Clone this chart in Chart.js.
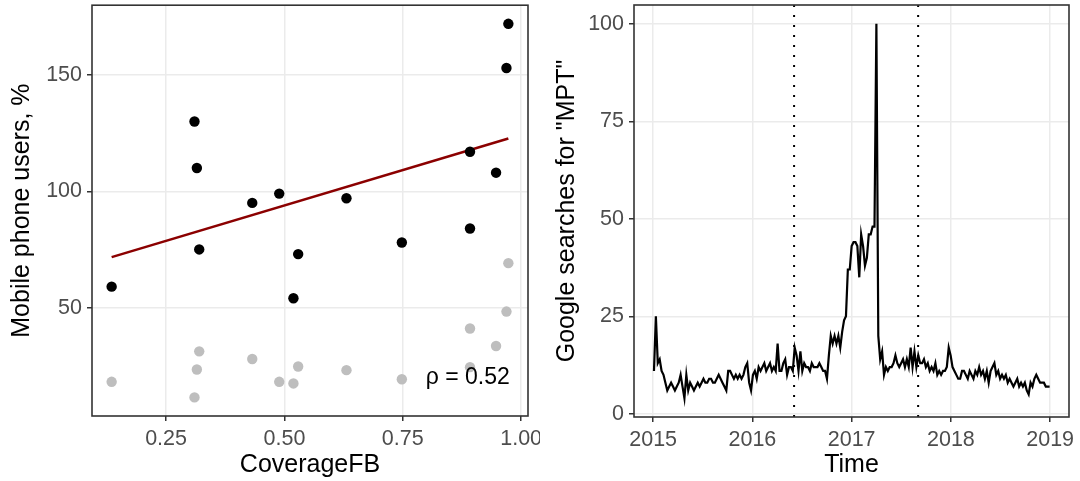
<!DOCTYPE html>
<html>
<head>
<meta charset="utf-8">
<script src="https://cdn.jsdelivr.net/npm/chart.js@4.4.0/dist/chart.umd.min.js"></script>
<style>
  body { margin: 0; background: #fff; }
  #wrap { display: flex; width: 1080px; height: 481px; }
  canvas { display: block; }
</style>
</head>
<body>
<div id="wrap">
  <canvas id="left" width="540" height="481"></canvas>
  <canvas id="right" width="540" height="481"></canvas>
</div>
<script>
// left panel - one point per country
const coverageFB  = [0.135, 0.310, 0.315, 0.320, 0.432, 0.489, 0.519, 0.529, 0.631, 0.748, 0.892, 0.892, 0.947, 0.969, 0.973];
const mobileUsers = [59, 130, 110, 75, 95, 99, 54, 73, 97, 78, 117, 84, 108, 153, 172];
const fbUsers     = [18.1, 11.4, 23.4, 31.2, 27.9, 18.1, 17.4, 24.7, 23.1, 19.2, 41.0, 24.4, 33.5, 48.3, 69.1];
const fitX = [0.135, 0.973];
const fitY = [71.7, 122.7];
const rhoText = 'ρ = 0.52';
const coverageTicks = [0.25, 0.5, 0.75, 1.0];
const usersTicks = [50, 100, 150];

// right panel - weekly google trends, first week 2015-01-04
const mptSearches = [
  11, 25, 13, 14, 11, 10, 8, 6, 7, 8,
  7, 6, 7, 8, 10, 7, 4, 10, 6, 8,
  7, 6, 7, 8, 7, 8, 9, 8, 8, 9,
  9, 8, 8, 9, 10, 9, 8, 7, 6, 11,
  11, 10, 9, 10, 9, 10, 9, 10, 12, 13,
  8, 6, 10, 11, 9, 12, 11, 12, 13, 11,
  12, 13, 11, 12, 11, 18, 11, 11, 13, 14,
  10, 12, 12, 11, 17, 15, 11, 16, 11, 13,
  12, 12, 11, 13, 12, 12, 12, 13, 12, 11,
  11, 9, 15, 20, 18, 20, 18, 20, 17, 21,
  24, 25, 37, 37, 43, 44, 44, 43, 35, 46,
  43, 38, 40, 46, 46, 48, 48, 100, 20, 14,
  16, 10, 12, 11, 12, 12, 13, 15, 13, 12,
  13, 14, 12, 14, 12, 17, 12, 16, 12, 15,
  13, 13, 14, 12, 13, 11, 12, 11, 13, 10,
  11, 10, 11, 11, 12, 17, 15, 12, 11, 10,
  9, 9, 11, 11, 10, 9, 11, 10, 9, 11,
  10, 12, 10, 11, 9, 11, 8, 11, 12, 13,
  10, 11, 9, 10, 9, 10, 8, 9, 8, 7,
  8, 9, 7, 8, 7, 8, 6, 5, 8, 7,
  9, 10, 9, 8, 8, 8, 7, 7, 7
];
const eventDates = [2016.42, 2017.67];
const yearTicks = [2015, 2016, 2017, 2018, 2019];
const searchTicks = [0, 25, 50, 75, 100];

const FONT = "'Liberation Sans', Arial, sans-serif";
Chart.defaults.font.family = FONT;

function decYear(d) {
  const y = d.getFullYear();
  const a = new Date(y, 0, 1), b = new Date(y + 1, 0, 1);
  return y + (d - a) / (b - a);
}
const weekPoints = mptSearches.map((v, i) => ({ x: decYear(new Date(2015, 0, 4 + 7 * i)), y: v }));

const panelBorder = {
  id: 'panelBorder',
  afterDraw(chart) {
    const { ctx, chartArea: a } = chart;
    ctx.save();
    ctx.strokeStyle = '#333333';
    ctx.lineWidth = 1.6;
    ctx.strokeRect(a.left, a.top, a.right - a.left, a.bottom - a.top);
    ctx.restore();
  }
};

const rhoLabel = {
  id: 'rhoLabel',
  afterDatasetsDraw(chart) {
    const { ctx, scales } = chart;
    ctx.save();
    ctx.font = '23px ' + FONT;
    ctx.fillStyle = '#000';
    ctx.textAlign = 'right';
    ctx.textBaseline = 'middle';
    ctx.fillText(rhoText, scales.x.getPixelForValue(0.976), scales.y.getPixelForValue(20));
    ctx.restore();
  }
};

function fixTicks(list) {
  return axis => { axis.ticks = list.map(v => ({ value: v })); };
}
function grid() {
  return { color: '#ebebeb', lineWidth: 1.5, tickColor: '#333333', tickLength: 5, tickWidth: 1.5 };
}
function tickFont() {
  return { color: '#4d4d4d', font: { size: 21.5 }, padding: 5, maxRotation: 0, autoSkip: false };
}

const baseOpts = {
  responsive: false,
  animation: false,
  devicePixelRatio: 1,
  plugins: { legend: { display: false }, tooltip: { enabled: false } }
};

new Chart(document.getElementById('left'), {
  type: 'scatter',
  data: {
    datasets: [
      {
        data: coverageFB.map((x, i) => ({ x: x, y: mobileUsers[i] })),
        pointBackgroundColor: '#000', pointBorderWidth: 0, pointRadius: 5.2
      },
      {
        data: coverageFB.map((x, i) => ({ x: x, y: fbUsers[i] })),
        pointBackgroundColor: '#bebebe', pointBorderWidth: 0, pointRadius: 5.2
      },
      {
        data: fitX.map((x, i) => ({ x: x, y: fitY[i] })),
        showLine: true, borderColor: '#8b0000', borderWidth: 2.6, pointRadius: 0
      }
    ]
  },
  options: Object.assign({}, baseOpts, {
    layout: { padding: { top: 5, right: 12, left: 0, bottom: 0 } },
    scales: {
      x: {
        type: 'linear', min: 0.0935, max: 1.0145,
        afterBuildTicks: fixTicks(coverageTicks),
        afterFit: s => { s.height = 65; s.paddingLeft = 0; s.paddingRight = 0; },
        grid: grid(), border: { display: false },
        ticks: Object.assign(tickFont(), { callback: v => v.toFixed(2) }),
        title: { display: true, text: 'CoverageFB', color: '#000', font: { size: 25 }, padding: { top: 0, bottom: 1 } }
      },
      y: {
        type: 'linear', min: 3.4, max: 180,
        afterBuildTicks: fixTicks(usersTicks),
        afterFit: s => { s.width = 92; s.paddingTop = 0; s.paddingBottom = 0; },
        grid: grid(), border: { display: false },
        ticks: tickFont(),
        title: { display: true, text: 'Mobile phone users, %', color: '#000', font: { size: 25 }, padding: { top: 7, bottom: 0 } }
      }
    }
  }),
  plugins: [rhoLabel, panelBorder]
});

const yLo = -0.8, yHi = 104.8;
new Chart(document.getElementById('right'), {
  type: 'scatter',
  data: {
    datasets: [
      {
        data: weekPoints, showLine: true, borderColor: '#000', borderWidth: 2.2, pointRadius: 0, tension: 0
      }
    ].concat(eventDates.map(d => ({
      data: [{ x: d, y: yLo }, { x: d, y: yHi }],
      showLine: true, borderColor: '#000', borderWidth: 2, borderDash: [2, 8], pointRadius: 0
    })))
  },
  options: Object.assign({}, baseOpts, {
    layout: { padding: { top: 5, right: 11, left: 0, bottom: 0 } },
    scales: {
      x: {
        type: 'linear', min: 2014.807, max: 2019.19,
        afterBuildTicks: fixTicks(yearTicks),
        afterFit: s => { s.height = 64; s.paddingLeft = 0; s.paddingRight = 0; },
        grid: grid(), border: { display: false },
        ticks: Object.assign(tickFont(), { callback: v => String(v) }),
        title: { display: true, text: 'Time', color: '#000', font: { size: 25 }, padding: { top: 0, bottom: 1 } }
      },
      y: {
        type: 'linear', min: yLo, max: yHi,
        afterBuildTicks: fixTicks(searchTicks),
        afterFit: s => { s.width = 94; s.paddingTop = 0; s.paddingBottom = 0; },
        grid: grid(), border: { display: false },
        ticks: tickFont(),
        title: { display: true, text: 'Google searches for "MPT"', color: '#000', font: { size: 25 }, padding: { top: 12, bottom: 0 } }
      }
    }
  }),
  plugins: [panelBorder]
});
</script>
</body>
</html>
